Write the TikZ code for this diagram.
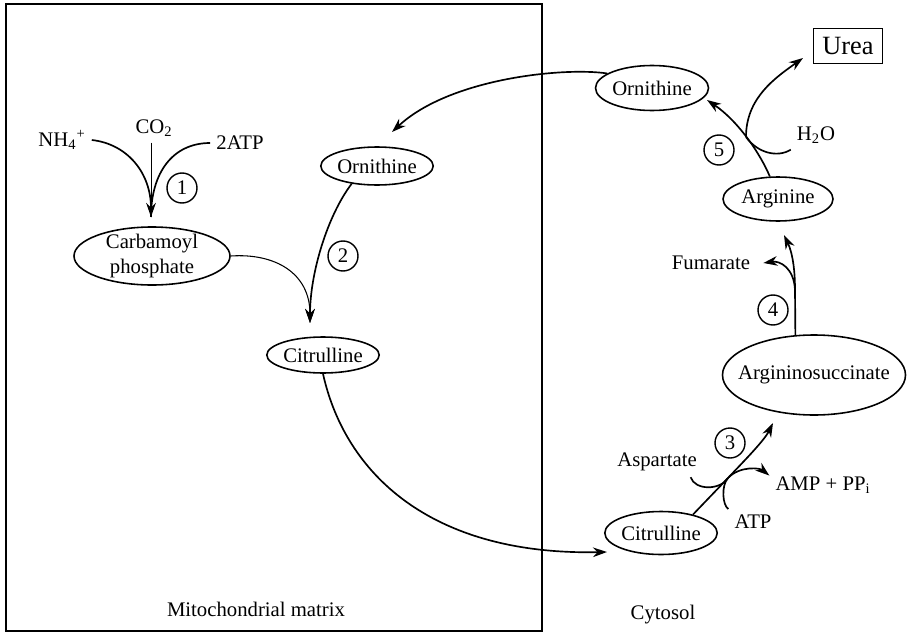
\documentclass[tikz,border=0pt]{standalone}
\usepackage{fontspec}
\setmainfont{Liberation Serif}
\usetikzlibrary{shapes.geometric, arrows.meta}

\tikzset{
  pool/.style={ellipse, draw, line width=0.9pt, inner sep=0pt},
  enz/.style={circle, draw, line width=0.8pt, minimum size=0.6cm, inner sep=0pt},
  flow/.style={line width=0.95pt, ->},
}

\begin{document}
\begin{tikzpicture}[font=\fontsize{11.8}{14}\selectfont, >={Stealth[length=8pt, width=5.5pt]}]
  \useasboundingbox (0,0) rectangle (18.16,12.66);
  %% mitochondrion
  \draw[line width=1pt] (0.12,0.04) rectangle (10.84,12.58);
  \node (mito) at (5.12,0.48) {Mitochondrial matrix};
  \node (cyto) at (13.26,0.36) {Cytosol};
  %% metabolites
  \node[pool, minimum width=3.12cm, minimum height=1.16cm, inner ysep=-0.05cm,
    align=center] (carb) at (3.04,7.54) {Carbamoyl\\phosphate};
  \node[pool, minimum width=2.24cm, minimum height=0.76cm] (orn1) at (7.54,9.34) {Ornithine};
  \node[pool, minimum width=2.2cm, minimum height=0.72cm] (cit1) at (6.46,5.56) {Citrulline};
  \node[pool, minimum width=2.26cm, minimum height=0.9cm] (orn2) at (13.04,10.90) {Ornithine};
  \node[pool, minimum width=2.2cm, minimum height=0.88cm] (arg) at (15.56,8.68) {Arginine};
  \node[pool, minimum width=3.66cm, minimum height=1.6cm, inner xsep=-0.23cm] (asuc) at (16.28,5.16) {Argininosuccinate};
  \node[pool, minimum width=2.2cm, minimum height=0.86cm] (cit2) at (13.22,2.00) {Citrulline};
  \node[draw, line width=0.9pt, minimum width=1.38cm, minimum height=0.7cm, inner sep=0pt,
    font=\fontsize{15}{17}\selectfont] (urea) at (16.96,11.74) {Urea};
  %% side substrates and products
  \node (nh) at (1.24,9.86) {NH\textsubscript{4}\textsuperscript{+}};
  \node (co) at (3.08,10.10) {CO\textsubscript{2}};
  \node (atpa) at (4.80,9.80) {2ATP};
  \node (fum) at (14.22,7.40) {Fumarate};
  \node (water) at (16.32,9.96) {H\textsubscript{2}O};
  \node (asp) at (13.14,3.42) {Aspartate};
  \node (amp) at (16.46,2.96) {AMP + PP\textsubscript{i}};
  \node (atpb) at (15.06,2.22) {ATP};
  %% enzyme steps
  \node[enz] (e1) at (3.64,8.90) {1};
  \node[enz] (e2) at (6.86,7.54) {2};
  \node[enz] (e3) at (14.60,3.80) {3};
  \node[enz] (e4) at (15.46,6.46) {4};
  \node[enz] (e5) at (14.38,9.66) {5};
  %% arrow ends and branch points
  \coordinate (cpin) at (3.02,8.32);
  \coordinate (cin) at (6.20,6.20);
  \coordinate (oin) at (7.84,10.02);
  \coordinate (c2in) at (12.14,1.62);
  \coordinate (j3) at (14.56,3.10);
  \coordinate (a3in) at (15.46,4.20);
  \coordinate (j4) at (15.90,6.86);
  \coordinate (a4in) at (15.68,7.96);
  \coordinate (j5) at (14.92,9.92);
  \coordinate (o5in) at (14.14,10.66);
  \coordinate (uin) at (16.06,11.50);
  %% step 1
  \draw[thin] (cpin |- co.south) -- (cpin);
  \draw[flow] (nh.east) .. controls (2.55,9.78) and (3.02,9.2) .. (cpin);
  \draw[line width=0.95pt] (atpa.west) .. controls (3.45,9.8) and (3.02,9.2) .. (cpin);
  %% step 2
  \draw[semithick, ->] (carb.east) .. controls (5.5,7.6) and (6.2,7.2) .. (cin);
  \draw[flow] (orn1.215) .. controls (6.55,8.35) and (6.20,7.2) .. (cin);
  %% transport across the membrane
  \draw[flow] (cit1.south) .. controls (6.9,3.2) and (8.6,1.55) .. (c2in);
  \draw[flow] (orn2.162) .. controls (11.3,11.32) and (9.0,11.1) .. (oin);
  %% step 3
  \draw[flow] (cit2.30) -- (j3) .. controls (14.84,3.40) and (15.28,3.84) .. (a3in);
  \draw[line width=0.95pt] ([xshift=-7pt]asp.south east) .. controls (13.9,2.85) and (14.4,2.85) .. (j3);
  \draw[line width=0.95pt] (atpb.north west) .. controls (14.45,2.55) and (14.42,2.95) .. (j3);
  \draw[flow] (j3) .. controls (14.8,3.35) and (15.2,3.3) .. (amp.170);
  %% step 4
  \draw[flow] (asuc.115) -- (j4) .. controls (15.90,7.5) and (15.78,7.75) .. (a4in);
  \draw[flow] (j4) .. controls (15.88,7.3) and (15.6,7.45) .. ([xshift=4pt]fum.east);
  %% step 5
  \draw[flow] (arg.110) .. controls (15.2,9.6) and (14.75,10.25) .. (o5in);
  \draw[flow] (j5) .. controls (14.92,10.7) and (15.5,11.1) .. (uin);
  \draw[line width=0.95pt] (water.south west) .. controls (15.55,9.5) and (15.15,9.6) .. (j5);
\end{tikzpicture}
\end{document}
